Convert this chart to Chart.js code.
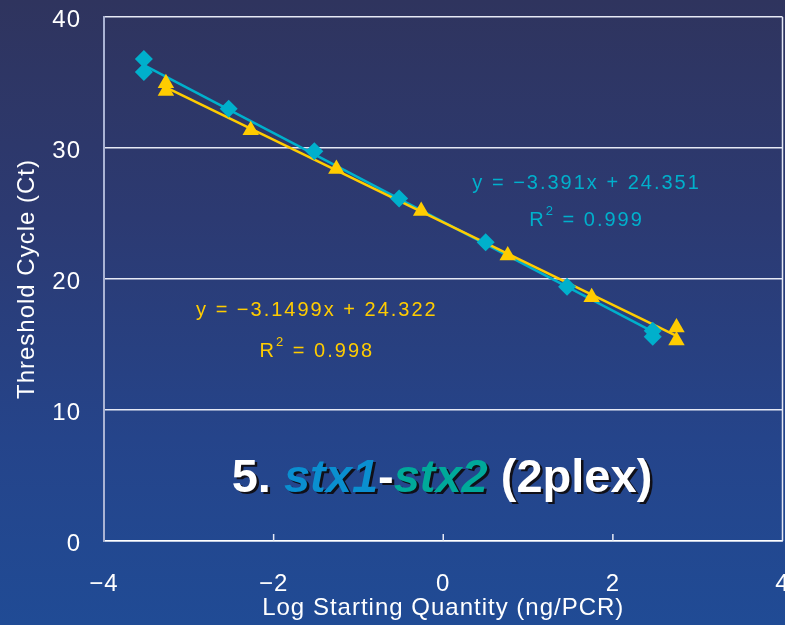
<!DOCTYPE html>
<html>
<head>
<meta charset="utf-8">
<script src="https://cdn.jsdelivr.net/npm/chart.js@4.4.0/dist/chart.umd.min.js"></script>
<style>
html,body{margin:0;padding:0;overflow:hidden;}
body{width:785px;height:625px;background:linear-gradient(180deg,#2f345e 0%,#2c3a72 35%,#25448a 70%,#204b95 100%);}
canvas{display:block;}
</style>
</head>
<body>
<!-- a bit wider than the window: the "4" label is cut at the right edge like the original -->
<canvas id="ctChart" width="792" height="625"></canvas>
<script>
// standard curve data
const stx1X  = [-3.53, -3.53, -2.53, -1.52, -0.52, 0.50, 1.46, 2.47, 2.47];
const stx1Ct = [36.8, 35.8, 33.0, 29.75, 26.15, 22.8, 19.4, 16.05, 15.6];
const stx2X  = [-3.27, -3.27, -2.27, -1.26, -0.26, 0.76, 1.75, 2.75, 2.75];
const stx2Ct = [34.95, 34.35, 31.35, 28.4, 25.2, 21.8, 18.6, 16.3, 15.3];

// regression shown on the chart
const stx1Slope = -3.391, stx1Icpt = 24.351, stx1R2 = "0.999";
const stx2Slope = -3.1499, stx2Icpt = 24.322, stx2R2 = "0.998";

const xTicks = [-4, -2, 0, 2, 4];
const yTicks = [0, 10, 20, 30, 40];

const cyan = "#00b0cc";
const yellow = "#ffcc00";
const labelFont = '"Liberation Sans", Arial, sans-serif';

function pts(xs, ys) {
  return xs.map((x, i) => ({x: x, y: ys[i]}));
}
function fitLine(xs, slope, icpt) { //two end points of the trend line
  const lo = Math.min(...xs), hi = Math.max(...xs);
  return [{x: lo, y: slope * lo + icpt}, {x: hi, y: slope * hi + icpt}];
}
function minus(v) {
  return v < 0 ? "\u2212" + Math.abs(v) : String(v);
}
function noPad(s) { //keep the plot box where the reference has it
  s.paddingTop = 0; s.paddingBottom = 0; s.paddingLeft = 0; s.paddingRight = 0;
}

const extras = {
  id: "extras",
  beforeUpdate(chart) { chart.ctx.letterSpacing = "1px"; },
  beforeDraw(chart) { chart.ctx.letterSpacing = "1px"; },
  afterDraw(chart) {
    const ctx = chart.ctx, a = chart.chartArea;
    const xs = chart.scales.x, ys = chart.scales.y;
    ctx.save();
    // box right side + little x ticks pointing up
    ctx.strokeStyle = "#e6e9f5";
    ctx.lineWidth = 1.5;
    ctx.beginPath();
    ctx.moveTo(a.right, a.top);
    ctx.lineTo(a.right, a.bottom);
    xTicks.slice(1, -1).forEach(t => {
      const px = xs.getPixelForValue(t);
      ctx.moveTo(px, a.bottom);
      ctx.lineTo(px, a.bottom - 7);
    });
    ctx.stroke();

    // equations
    ctx.letterSpacing = "2px";
    ctx.textBaseline = "middle";
    function eq(color, x, y, gap, slope, icpt, r2) {
      ctx.fillStyle = color;
      ctx.font = "20px " + labelFont;
      ctx.textAlign = "center";
      const px = xs.getPixelForValue(x), py = ys.getPixelForValue(y);
      ctx.fillText("y = " + minus(slope) + "x + " + icpt, px, py);
      const r = "R", rest = " = " + r2;
      const w1 = ctx.measureText(r).width;
      ctx.font = "13px " + labelFont;
      const w2 = ctx.measureText("2").width;
      ctx.font = "20px " + labelFont;
      const w3 = ctx.measureText(rest).width;
      const sx = px - (w1 + w2 + w3) / 2;
      const ry = py + gap;
      ctx.textAlign = "left";
      ctx.fillText(r, sx, ry);
      ctx.font = "13px " + labelFont;
      ctx.fillText("2", sx + w1, ry - 9);
      ctx.font = "20px " + labelFont;
      ctx.fillText(rest, sx + w1 + w2, ry);
    }
    eq(cyan, 1.69, 27.3, 37, stx1Slope, stx1Icpt, stx1R2);
    eq(yellow, -1.49, 17.6, 41, stx2Slope, stx2Icpt, stx2R2);

    // title
    ctx.letterSpacing = "0px";
    const bold = "bold 47px Liberation Sans, Arial, sans-serif";
    const boldIt = "italic bold 47px Liberation Sans, Arial, sans-serif";
    const parts = [
      {t: "5. ", c: "#ffffff", f: bold},
      {t: "stx1", c: "#0a8fd0", f: boldIt},
      {t: "-", c: "#ffffff", f: bold},
      {t: "stx2", c: "#00a99a", f: boldIt},
      {t: " (2plex)", c: "#ffffff", f: bold}
    ];
    let total = 0;
    parts.forEach(p => { ctx.font = p.f; p.w = ctx.measureText(p.t).width; total += p.w; });
    let tx = 442 - total / 2;
    const ty = 479;
    ctx.textAlign = "left";
    parts.forEach(p => {
      ctx.font = p.f;
      ctx.fillStyle = "#101018";
      ctx.fillText(p.t, tx + 2.5, ty + 2.5);
      ctx.fillStyle = p.c;
      ctx.fillText(p.t, tx, ty);
      tx += p.w;
    });
    ctx.restore();
  }
};

new Chart("ctChart", {
  type: "scatter",
  data: {
    datasets: [{
      type: "line",
      data: fitLine(stx1X, stx1Slope, stx1Icpt),
      borderColor: cyan,
      borderWidth: 2.5,
      pointRadius: 0,
      order: 4
    }, {
      type: "line",
      data: fitLine(stx2X, stx2Slope, stx2Icpt),
      borderColor: yellow,
      borderWidth: 2.5,
      pointRadius: 0,
      order: 3
    }, {
      data: pts(stx1X, stx1Ct),
      pointStyle: "rectRot",
      pointRadius: 9,
      backgroundColor: cyan,
      borderColor: cyan,
      borderWidth: 0,
      order: 2
    }, {
      data: pts(stx2X, stx2Ct),
      pointStyle: "triangle",
      pointRadius: 9.5,
      backgroundColor: yellow,
      borderColor: yellow,
      borderWidth: 0,
      order: 1
    }]
  },
  options: {
    responsive: false,
    devicePixelRatio: 1,
    animation: false,
    layout: {padding: {top: 17, right: 3, left: 0, bottom: 0}},
    plugins: {legend: {display: false}, tooltip: {enabled: false}},
    scales: {
      x: {
        type: "linear",
        min: -4, max: 4,
        afterFit: s => { s.height = 84; noPad(s); },
        afterBuildTicks: s => { s.ticks = xTicks.map(v => ({value: v})); },
        ticks: {color: "#ffffff", font: {family: labelFont, size: 24}, padding: 29, callback: v => minus(v), maxRotation: 0},
        grid: {drawOnChartArea: false, drawTicks: false},
        border: {color: "#ffffff", width: 1.5},
        title: {display: true, text: "Log Starting Quantity (ng/PCR)", color: "#ffffff", font: {family: labelFont, size: 24}, padding: {top: 0, bottom: 2}}
      },
      y: {
        min: 0, max: 40,
        afterFit: s => { s.width = 104; noPad(s); },
        afterBuildTicks: s => { s.ticks = yTicks.map(v => ({value: v})); },
        ticks: {color: "#ffffff", font: {family: labelFont, size: 24}, padding: 23, labelOffset: 3},
        grid: {color: "#e6e9f5", lineWidth: 1.5, drawTicks: false},
        border: {color: "#aab3d4", width: 2},
        title: {display: true, text: "Threshold Cycle (Ct)", color: "#ffffff", font: {family: labelFont, size: 24}, padding: {top: 13, bottom: 0}}
      }
    }
  },
  plugins: [extras]
});
</script>
</body>
</html>
